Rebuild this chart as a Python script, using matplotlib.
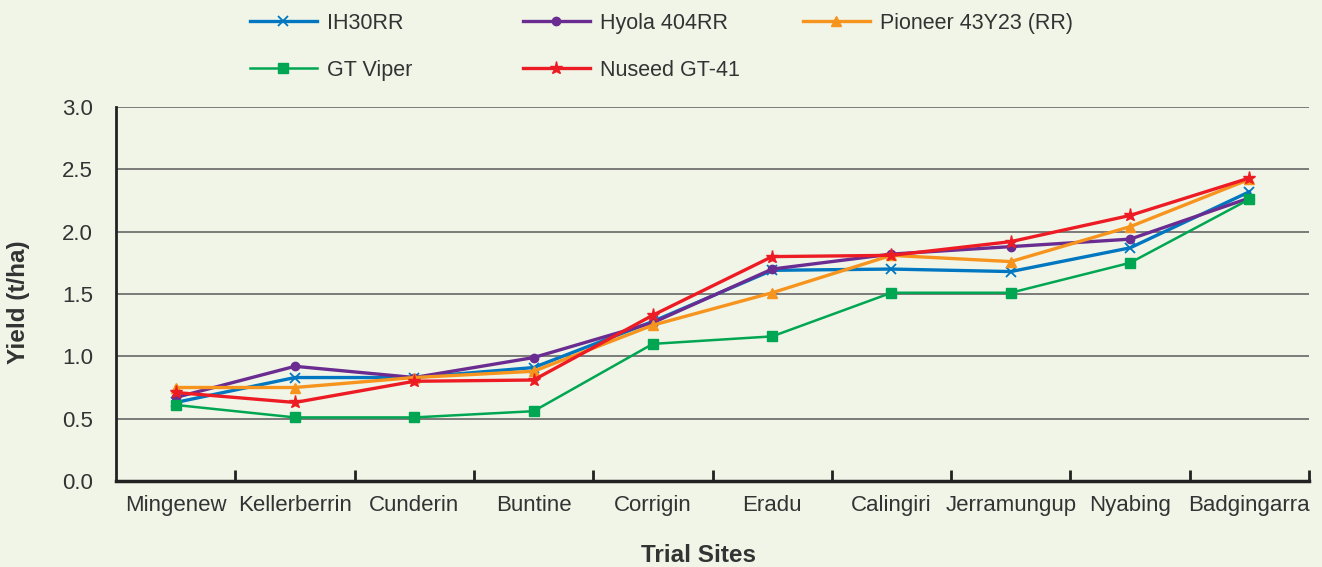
import numpy as np
import matplotlib
matplotlib.use('Agg')
from matplotlib import pyplot as plt

plt.rcParams['font.family'] = ['Liberation Sans', 'DejaVu Sans']

sites = ['Mingenew', 'Kellerberrin', 'Cunderin', 'Buntine', 'Corrigin',
         'Eradu', 'Calingiri', 'Jerramungup', 'Nyabing', 'Badgingarra']

ih30rr = [0.63, 0.83, 0.83, 0.91, 1.28, 1.69, 1.70, 1.68, 1.87, 2.32]
hyola = [0.67, 0.92, 0.83, 0.99, 1.27, 1.70, 1.82, 1.88, 1.94, 2.27]
pioneer = [0.75, 0.75, 0.83, 0.88, 1.25, 1.51, 1.81, 1.76, 2.04, 2.42]
gt_viper = [0.61, 0.51, 0.51, 0.56, 1.10, 1.16, 1.51, 1.51, 1.75, 2.26]
nuseed = [0.71, 0.63, 0.80, 0.81, 1.33, 1.80, 1.81, 1.92, 2.13, 2.43]

bg = '#f0f5e8'
txt = '#333333'
W, H = 1322, 567

fig = plt.figure(figsize=(W/100, H/100), dpi=100, facecolor=bg)
ax = fig.add_axes([116/W, 1-481/H, (1309-116)/W, (481-107)/H])
ax.set_facecolor(bg)

x = np.arange(len(sites))
h_ih, = ax.plot(x, ih30rr, color='#0077c0', lw=2.4, marker='x', ms=7, mew=1.3, label='IH30RR', zorder=3)
h_hy, = ax.plot(x, hyola, color='#6a2c91', lw=2.4, marker='o', ms=6, label='Hyola 404RR', zorder=3)
h_pi, = ax.plot(x, pioneer, color='#f7941d', lw=2.4, marker='^', ms=7, label='Pioneer 43Y23 (RR)', zorder=3)
h_gt, = ax.plot(x, gt_viper, color='#00a651', lw=1.8, marker='s', ms=6.5, label='GT Viper', zorder=3)
h_nu, = ax.plot(x, nuseed, color='#ed1c24', lw=2.4, marker='*', ms=9.5, label='Nuseed GT-41', zorder=3)

ax.set_xlim(-0.5, len(sites) - 0.5)
ax.set_ylim(0, 3.0)
yt = np.arange(0, 3.01, 0.5)
ax.set_yticks(yt)
ax.set_yticklabels(['%.1f' % v for v in yt])
ax.yaxis.grid(True, color='#666666', lw=1.2)
ax.set_axisbelow(True)

ax.set_xticks(x)
ax.set_xticklabels(sites)
ax.set_xticks(np.arange(0.5, len(sites), 1.0), minor=True)
ax.tick_params(axis='x', which='major', length=0, pad=10, labelsize=16, labelcolor=txt)
ax.tick_params(axis='x', which='minor', direction='in', length=8, width=2, color='#222222')
ax.tick_params(axis='y', length=0, pad=16.5, labelsize=16, labelcolor=txt)

for s in ['top', 'right']:
    ax.spines[s].set_visible(False)
ax.spines['left'].set_color('#222222')
ax.spines['left'].set_linewidth(2)
ax.spines['bottom'].set_color('#222222')
ax.spines['bottom'].set_linewidth(2.5)

fig.text(19/W, 1-302/H, 'Yield (t/ha)', rotation=90, ha='center', va='center',
         fontsize=17.5, fontweight='bold', color=txt)
fig.text(698/W, 1-555/H, 'Trial Sites', ha='center', va='center',
         fontsize=17.5, fontweight='bold', color=txt)

# legend: three fixed columns
cols = [([h_ih, h_gt], 250), ([h_hy, h_nu], 523), ([h_pi], 803)]
for handles, xpx in cols:
    fig.legend(handles=handles, loc='upper left', bbox_to_anchor=(xpx/W, 1-13/H),
               frameon=False, fontsize=15.5, handlelength=3.1, handletextpad=0.47,
               labelspacing=1.2, borderpad=0, borderaxespad=0, labelcolor=txt)

fig.savefig('out.png', dpi=100, facecolor=bg)
